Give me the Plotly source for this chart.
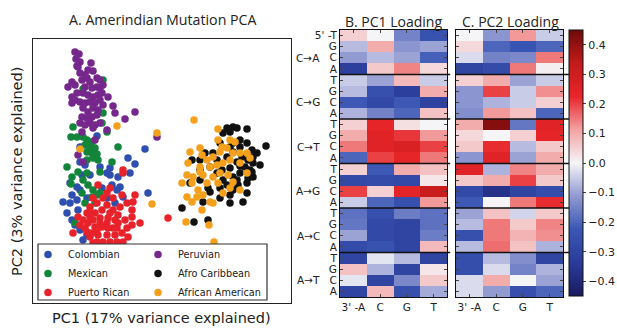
import plotly.graph_objects as go

# ---------------- data ----------------
# PCA scores (arbitrary units)
colombian_pc1 = [80, 85, 100, 110, 128, 135, 145, 97, 80, 82, 90, 107, 118, 130, 70, 77, 80, 112, 117, 102,
                 63, 70, 67, 72, 75, 148, 78, 80, 83, 88, 120, 100, 87, 120, 115, 77, 123, 110, 72, 87, 107]
colombian_pc2 = [138, 135, 133, 132, 142, 136, 151, 164, 153, 125, 125, 127, 123, 127, 117, 113, 110, 115, 110, 112,
                 98, 97, 87, 80, 75, 107, 90, 70, 60, 50, 50, 48, 65, 113, 97, 100, 103, 125, 105, 102, 102]

mexican_pc1 = [83, 103, 73, 71, 77, 83, 87, 92, 85, 90, 95, 87, 92, 97, 93, 98, 103, 102, 107, 118,
               67, 87, 112, 71, 83, 88, 93, 97, 92, 100, 87, 82, 85, 75, 72, 100, 78, 95]
mexican_pc2 = [211, 220, 173, 163, 163, 163, 160, 158, 155, 153, 152, 148, 147, 146, 142, 140, 187, 177, 168, 153,
               133, 140, 138, 116, 120, 115, 110, 105, 103, 107, 127, 107, 97, 77, 123, 128, 128, 97]

puerto_rican_pc1 = [123, 123, 98, 110, 122, 127, 135, 133, 140, 132, 127, 128, 123, 112, 100, 93, 90, 85, 73, 83,
                    87, 90, 97, 102, 107, 113, 118, 115, 108, 100, 93, 88, 95, 102, 108, 117, 122, 115, 107, 98,
                    92, 97, 103, 110, 117, 105, 95, 110, 120, 113, 103, 93, 107, 90, 80, 87, 125, 132, 118, 168,
                    115, 110, 132, 90, 78, 100, 107, 113, 97]
puerto_rican_pc2 = [130, 127, 115, 112, 105, 97, 105, 98, 77, 83, 72, 63, 58, 50, 52, 57, 63, 72, 67, 80,
                    87, 93, 97, 90, 95, 90, 85, 80, 82, 82, 80, 77, 73, 73, 72, 72, 67, 65, 65, 65,
                    67, 58, 58, 58, 58, 52, 87, 87, 93, 102, 102, 102, 107, 88, 75, 68, 80, 90, 77, 82,
                    50, 47, 75, 83, 83, 77, 77, 72, 70]

peruvian_pc1 = [75, 79, 76, 80, 77, 91, 88, 93, 78, 72, 68, 75, 82, 87, 90, 97, 100, 85, 92, 97,
                83, 88, 93, 98, 102, 108, 72, 75, 80, 85, 90, 95, 100, 103, 113, 115, 125, 135, 83, 88,
                93, 98, 82, 87, 92, 97, 80, 85, 90, 95, 100, 93, 107, 82, 95, 78, 83, 157, 85, 80,
                100, 72, 77, 103]
peruvian_pc2 = [248, 246, 241, 238, 234, 237, 230, 229, 233, 218, 213, 215, 220, 222, 218, 222, 220, 213, 212, 213,
                207, 205, 203, 205, 207, 203, 197, 200, 198, 197, 198, 197, 200, 195, 194, 187, 181, 188, 192, 188,
                192, 190, 183, 182, 183, 185, 177, 175, 177, 175, 177, 172, 170, 168, 160, 145, 138, 163, 225, 227,
                212, 203, 207, 215]

afro_caribbean_pc1 = [233, 227, 237, 247, 230, 223, 266, 240, 247, 233, 252, 257, 253, 240, 230, 220, 205, 213, 233, 248,
                      242, 192, 200, 217, 227, 237, 253, 245, 182, 194, 208, 210, 247, 243, 230, 233, 240, 252, 233, 223,
                      217, 200, 190, 227, 238, 247, 220, 203, 230, 237, 220, 248, 253, 208, 230, 222, 240, 210, 250, 260,
                      200]
afro_caribbean_pc2 = [173, 172, 172, 171, 168, 167, 154, 160, 157, 157, 150, 147, 143, 153, 153, 157, 147, 147, 148, 140,
                      143, 140, 140, 140, 143, 138, 137, 133, 92, 78, 80, 108, 117, 98, 105, 110, 127, 128, 123, 120,
                      127, 120, 117, 115, 115, 107, 102, 98, 97, 120, 112, 122, 123, 112, 132, 130, 134, 133, 130, 135,
                      130]

african_american_pc1 = [194, 218, 157, 117, 80, 190, 202, 207, 213, 220, 227, 233, 230, 240, 223, 217, 210, 200, 188, 240,
                        247, 235, 230, 218, 222, 250, 200, 152, 186, 209, 214, 202, 213, 197, 182, 198, 187, 193, 203, 213,
                        220, 228, 233, 207, 218, 223, 210, 203, 192, 187, 230, 247, 200, 240, 192]
african_american_pc2 = [180, 171, 167, 174, 151, 148, 145, 140, 143, 148, 152, 147, 140, 147, 137, 135, 133, 133, 137, 137,
                        147, 158, 160, 160, 153, 142, 152, 96, 78, 75, 58, 90, 97, 103, 117, 110, 125, 123, 125, 123,
                        127, 125, 118, 117, 117, 107, 98, 105, 98, 103, 112, 127, 128, 110, 117]

# Mutation-spectrum loadings: 6 mutation classes x 4 (5' base) rows, 4 (3' base) columns
mutation_classes = ["C→A", "C→G", "C→T", "A→G", "A→C", "A→T"]
five_prime_bases = ["T", "G", "C", "A"]
three_prime_labels = ["3' -A", "C", "G", "T"]

pc1_loading = [
    [0.05, 0.00, -0.15, -0.24],
    [-0.07, 0.10, -0.12, -0.10],
    [-0.11, -0.07, -0.10, -0.21],
    [-0.32, 0.06, 0.14, 0.04],
    [-0.05, -0.10, 0.08, -0.05],
    [-0.07, -0.25, -0.32, 0.10],
    [-0.22, -0.28, -0.22, -0.31],
    [-0.08, -0.15, -0.20, 0.07],
    [0.05, 0.23, 0.03, 0.00],
    [0.10, 0.25, 0.21, 0.12],
    [0.15, 0.25, 0.27, 0.20],
    [-0.20, 0.20, 0.23, 0.15],
    [0.05, -0.22, 0.10, 0.07],
    [-0.28, -0.27, -0.28, 0.02],
    [0.20, 0.05, 0.24, 0.32],
    [-0.05, -0.20, -0.25, 0.12],
    [-0.18, -0.25, -0.16, -0.18],
    [-0.17, -0.28, -0.30, -0.18],
    [-0.10, -0.28, -0.30, -0.16],
    [-0.27, -0.24, -0.30, 0.08],
    [-0.30, -0.02, -0.07, -0.30],
    [0.07, -0.08, -0.30, 0.02],
    [-0.02, -0.30, -0.14, 0.06],
    [-0.30, 0.08, -0.25, -0.09],
]

pc2_loading = [
    [0.00, -0.12, 0.12, -0.05],
    [0.04, -0.20, -0.23, -0.20],
    [-0.03, -0.15, -0.14, 0.15],
    [-0.30, -0.27, 0.15, 0.01],
    [0.05, 0.10, -0.10, -0.05],
    [-0.12, 0.20, -0.05, 0.13],
    [-0.12, -0.08, -0.05, 0.05],
    [-0.13, 0.12, 0.07, -0.20],
    [0.10, 0.42, -0.17, 0.25],
    [0.04, 0.00, 0.05, 0.23],
    [0.06, 0.22, -0.07, 0.06],
    [-0.12, 0.25, -0.10, 0.10],
    [0.25, -0.08, 0.14, 0.10],
    [0.06, 0.10, 0.20, 0.06],
    [-0.28, -0.37, -0.30, -0.26],
    [-0.22, 0.00, 0.15, 0.22],
    [-0.10, 0.07, -0.04, 0.06],
    [-0.07, 0.15, 0.06, 0.14],
    [-0.25, 0.15, 0.09, 0.13],
    [-0.07, 0.16, 0.07, -0.08],
    [-0.26, -0.07, -0.13, -0.30],
    [-0.26, -0.03, -0.15, -0.08],
    [-0.03, 0.10, 0.00, -0.10],
    [-0.03, -0.11, -0.25, -0.20],
]

# ---------------- figure ----------------
W, H = 617, 332
def px_x(p):
    return p / W
def px_y(p):
    return (H - p) / H

FONT = "DejaVu Sans"
TITLE_FONT = "Open Sans"

populations = [
    ("Colombian", colombian_pc1, colombian_pc2, "#2f4fae", "legend"),
    ("Mexican", mexican_pc1, mexican_pc2, "#12853a", "legend"),
    ("Puerto Rican", puerto_rican_pc1, puerto_rican_pc2, "#e8222a", "legend"),
    ("Peruvian", peruvian_pc1, peruvian_pc2, "#76278c", "legend2"),
    ("Afro Caribbean", afro_caribbean_pc1, afro_caribbean_pc2, "#111111", "legend2"),
    ("African American", african_american_pc1, african_american_pc2, "#f5a01c", "legend2"),
]

fig = go.Figure()
for name, xs, ys, col, lg in populations:
    fig.add_trace(go.Scatter(
        x=xs, y=ys, mode="markers", name=name, legend=lg,
        marker=dict(size=7.5, color=col, line=dict(width=0)),
        xaxis="x", yaxis="y",
    ))

n_rows = len(mutation_classes) * len(five_prime_bases)
row_idx = list(range(n_rows))
row_text = []
for g in range(len(mutation_classes)):
    for b, base in enumerate(five_prime_bases):
        row_text.append("5' -T" if (g == 0 and b == 0) else base)

colorscale = [
    [0.00, "#1a1a5e"],
    [0.12, "#2a3a98"],
    [0.25, "#3a56b4"],
    [0.38, "#949cd2"],
    [0.50, "#f5f5f8"],
    [0.62, "#f3a6a6"],
    [0.75, "#e8252a"],
    [0.88, "#c01a1a"],
    [1.00, "#6e0b0b"],
]

fig.add_trace(go.Heatmap(z=pc1_loading, x=three_prime_labels, y=row_idx,
                         coloraxis="coloraxis", xaxis="x2", yaxis="y2", hoverinfo="skip"))
fig.add_trace(go.Heatmap(z=pc2_loading, x=three_prime_labels, y=row_idx,
                         coloraxis="coloraxis", xaxis="x3", yaxis="y3", hoverinfo="skip"))

heat_y_dom = [px_y(297), px_y(30)]
axis_common = dict(showgrid=False, zeroline=False, showline=True, linecolor="#111", linewidth=1,
                   ticks="inside", ticklen=3, tickcolor="#444", mirror="ticks",
                   tickfont=dict(family=FONT, size=10.5, color="#222"))

fig.update_layout(
    width=W, height=H,
    margin=dict(l=0, r=0, t=0, b=0, autoexpand=False),
    paper_bgcolor="white", plot_bgcolor="white",
    showlegend=True,
    xaxis=dict(domain=[px_x(33), px_x(291)], range=[33, 291], showgrid=False, zeroline=False,
               showticklabels=False, ticks="", showline=True, mirror=True, linecolor="#222", linewidth=1),
    yaxis=dict(domain=[px_y(303), px_y(39)], range=[-3, 261], showgrid=False, zeroline=False,
               showticklabels=False, ticks="", showline=True, mirror=True, linecolor="#222", linewidth=1),
    xaxis2=dict(domain=[px_x(340), px_x(447)], anchor="y2", **axis_common),
    yaxis2=dict(domain=heat_y_dom, anchor="x2", range=[n_rows - 0.5, -0.5],
                tickmode="array", tickvals=row_idx, ticktext=row_text, **axis_common),
    xaxis3=dict(domain=[px_x(456), px_x(563)], anchor="y3", **axis_common),
    yaxis3=dict(domain=heat_y_dom, anchor="x3", range=[n_rows - 0.5, -0.5],
                tickmode="array", tickvals=row_idx, showticklabels=False, **axis_common),
    coloraxis=dict(
        colorscale=colorscale, cmin=-0.45, cmax=0.45,
        colorbar=dict(x=px_x(569), xanchor="left", xpad=0, ypad=0, thickness=14,
                      lenmode="pixels", len=266, y=px_y(163), yanchor="middle",
                      outlinewidth=1, outlinecolor="#111",
                      tickmode="array", tickvals=[-0.4, -0.3, -0.2, -0.1, 0.0, 0.1, 0.2, 0.3, 0.4],
                      tickformat=".1f", ticks="outside", ticklen=3, tickcolor="#444",
                      tickfont=dict(family=FONT, size=11, color="#222")),
    ),
    legend=dict(x=px_x(28), y=px_y(240), xanchor="left", yanchor="top", bgcolor="rgba(0,0,0,0)",
                font=dict(family=FONT, size=9.7, color="#222"), tracegroupgap=0),
    legend2=dict(x=px_x(138), y=px_y(240), xanchor="left", yanchor="top", bgcolor="rgba(0,0,0,0)",
                 font=dict(family=FONT, size=9.7, color="#222"), tracegroupgap=0),
)

# legend frame
fig.add_shape(type="rect", xref="paper", yref="paper",
              x0=px_x(38), x1=px_x(267), y0=px_y(300), y1=px_y(244),
              line=dict(color="#333", width=1.2), fillcolor="white", layer="above")

# group separators in loading maps
for g in range(1, len(mutation_classes)):
    yb = g * len(five_prime_bases) - 0.5
    fig.add_shape(type="line", xref="x2 domain", yref="y2", x0=0, x1=1.03, y0=yb, y1=yb,
                  line=dict(color="#111", width=1.6))
    fig.add_shape(type="line", xref="x3 domain", yref="y3", x0=0, x1=1.056, y0=yb, y1=yb,
                  line=dict(color="#111", width=1.6))

# mutation class labels
for g, lab in enumerate(mutation_classes):
    fig.add_annotation(text=lab, xref="paper", yref="y2", x=px_x(322), y=g * 4 + 2,
                       xanchor="right", yanchor="middle", showarrow=False,
                       font=dict(family=FONT, size=10.5, color="#222"))

# titles
fig.add_annotation(text="A. Amerindian Mutation PCA", xref="paper", yref="paper",
                   x=px_x(163), y=px_y(19), xanchor="center", yanchor="middle", showarrow=False,
                   font=dict(family=TITLE_FONT, size=14.2, color="#222"))
fig.add_annotation(text="B. PC1 Loading", xref="paper", yref="paper",
                   x=px_x(393), y=px_y(21), xanchor="center", yanchor="middle", showarrow=False,
                   font=dict(family=TITLE_FONT, size=14, color="#222"))
fig.add_annotation(text="C. PC2 Loading", xref="paper", yref="paper",
                   x=px_x(510), y=px_y(21), xanchor="center", yanchor="middle", showarrow=False,
                   font=dict(family=TITLE_FONT, size=14, color="#222"))
fig.add_annotation(text="PC1 (17% variance explained)", xref="paper", yref="paper",
                   x=px_x(162), y=px_y(318), xanchor="center", yanchor="middle", showarrow=False,
                   font=dict(family=FONT, size=14.5, color="#222"))
fig.add_annotation(text="PC2 (3% variance explained)", xref="paper", yref="paper",
                   x=px_x(17), y=px_y(172), xanchor="center", yanchor="middle", showarrow=False,
                   textangle=-90, font=dict(family=FONT, size=14.5, color="#222"))

fig.write_html("out.html", config={"displayModeBar": False},
               post_script="document.body.style.margin='0';document.body.style.padding='0';")
